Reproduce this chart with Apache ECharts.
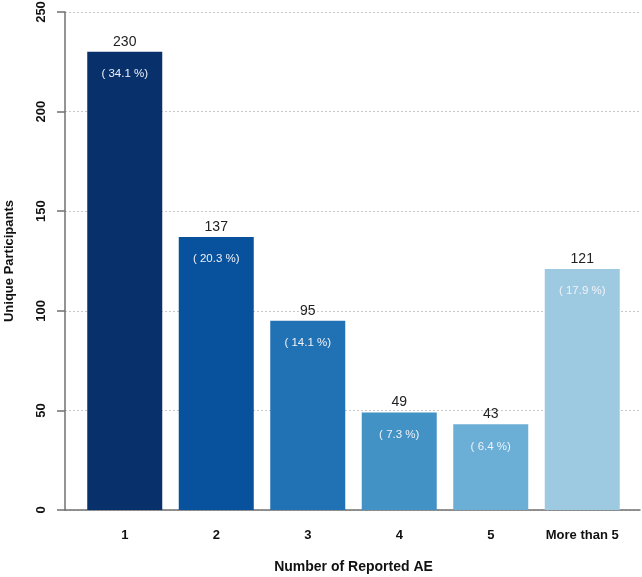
<!DOCTYPE html>
<html><head><meta charset="utf-8">
<script src="https://cdn.jsdelivr.net/npm/echarts@6/dist/echarts.min.js"></script>
<style>html,body{margin:0;padding:0;background:#fff}#c{width:642px;height:577px}</style>
</head><body><div id="c"></div>
<script>
var categories = ['1', '2', '3', '4', '5', 'More than 5'];
var counts = [230, 137, 95, 49, 43, 121];
var percents = [34.1, 20.3, 14.1, 7.3, 6.4, 17.9];
var colors = ['#08306B', '#08519C', '#2171B5', '#4292C6', '#6BAED6', '#9ECAE1'];
var yTicks = [0, 50, 100, 150, 200, 250];

var font = 'Liberation Sans, Arial, sans-serif';
var chart = echarts.init(document.getElementById('c'), null, {renderer: 'canvas'});
chart.setOption({
  animation: false,
  grid: [
    {left: 65, right: 2, top: 12, bottom: 67, containLabel: false, outerBoundsMode: 'none'},
    {left: 79, right: 14, top: 12, bottom: 67, containLabel: false, outerBoundsMode: 'none'}
  ],
  xAxis: [
    {gridIndex: 0, type: 'category', data: categories, show: true,
     axisLine: {show: true, lineStyle: {color: '#707070', width: 1.5}},
     axisTick: {show: false}, axisLabel: {show: false}},
    {gridIndex: 1, type: 'category', data: categories,
     axisLine: {show: false}, axisTick: {show: false},
     axisLabel: {show: true, interval: 0, hideOverlap: false, margin: 19, fontFamily: font, fontSize: 13, fontWeight: 'bold', color: '#111'},
     name: 'Number of Reported AE', nameLocation: 'middle', nameGap: 50,
     nameTextStyle: {fontFamily: font, fontSize: 14, fontWeight: 'bold', color: '#111'}}
  ],
  yAxis: [
    {gridIndex: 0, type: 'value', min: yTicks[0], max: yTicks[yTicks.length - 1], interval: 50,
     axisLine: {show: true, lineStyle: {color: '#707070', width: 1.5}},
     axisTick: {show: true, length: 8, lineStyle: {color: '#707070', width: 1.5}},
     axisLabel: {rotate: 90, margin: 17, fontFamily: font, fontSize: 13, fontWeight: 'bold', color: '#111'},
     splitLine: {show: true, lineStyle: {color: '#c8c8c8', type: [2, 2], width: 1}},
     name: 'Unique Participants', nameLocation: 'middle', nameGap: 49, nameRotate: 90,
     nameTextStyle: {fontFamily: font, fontSize: 13, fontWeight: 'bold', color: '#111'}},
    {gridIndex: 1, type: 'value', min: yTicks[0], max: yTicks[yTicks.length - 1], interval: 50, show: false,
     splitLine: {show: false}}
  ],
  series: [
    {type: 'bar', xAxisIndex: 1, yAxisIndex: 1, barWidth: 75,
     data: counts.map(function (v, i) { return {value: v, itemStyle: {color: colors[i]}}; }),
     label: {show: true, position: 'top', distance: 3, fontFamily: font, fontSize: 14, color: '#222'}},
    {type: 'bar', xAxisIndex: 1, yAxisIndex: 1, barWidth: 75, barGap: '-100%',
     data: counts, itemStyle: {color: 'rgba(0,0,0,0)'}, silent: true,
     label: {show: true, position: 'insideTop', distance: 16, fontFamily: font, fontSize: 11.5, color: '#eef2f8',
       formatter: function (p) { return '( ' + percents[p.dataIndex].toFixed(1) + ' %)'; }}}
  ]
});
</script></body></html>
